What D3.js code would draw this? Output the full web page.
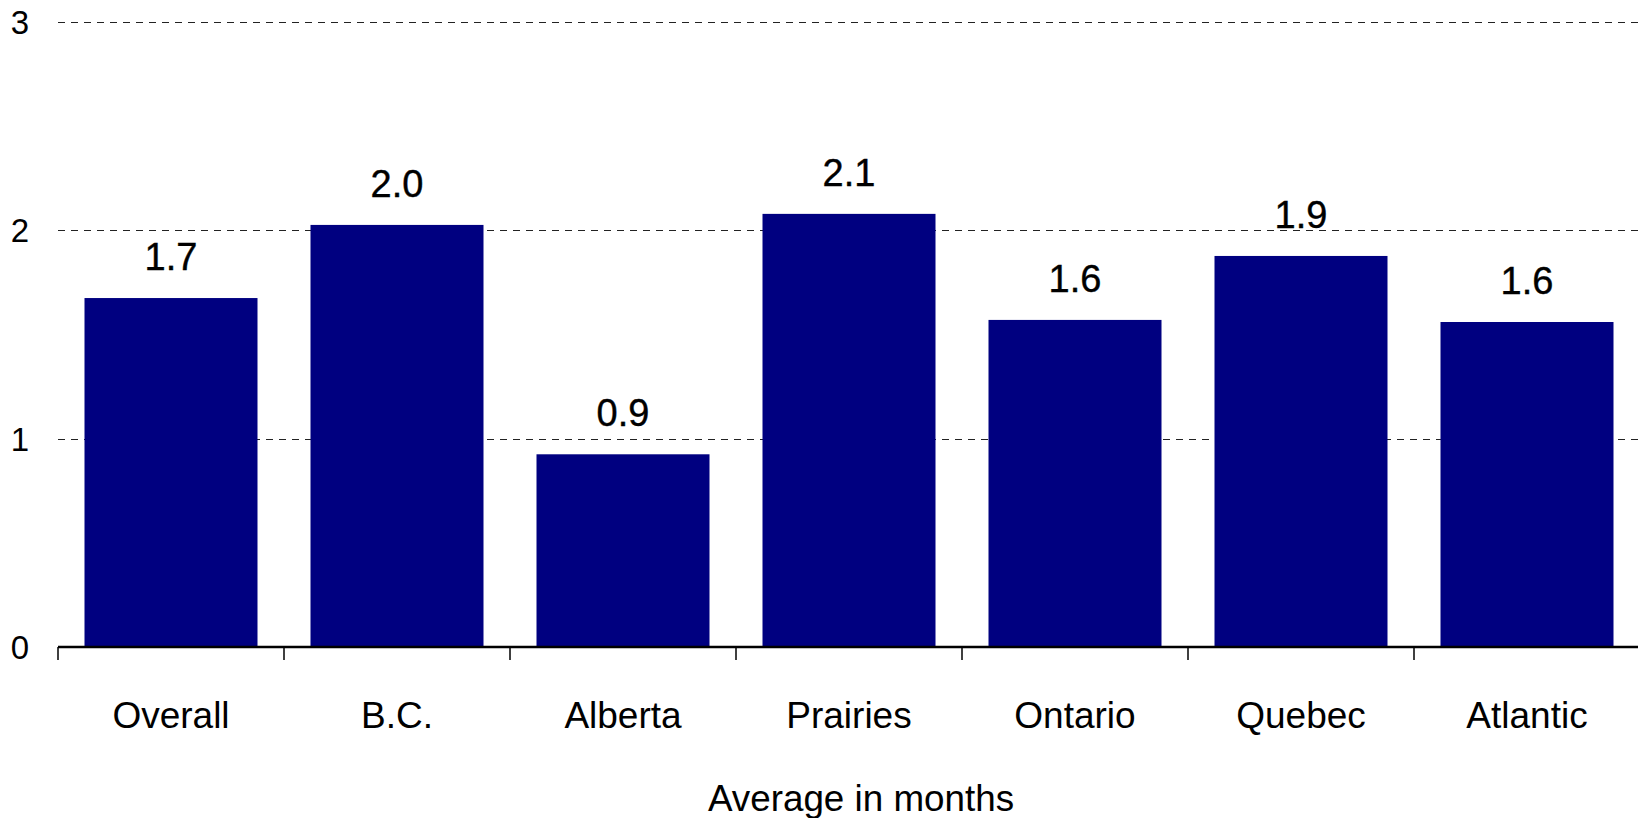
<!DOCTYPE html>
<html>
<head>
<meta charset="utf-8">
<script src="https://cdn.jsdelivr.net/npm/d3@7"></script>
<style>
  html, body { margin: 0; padding: 0; background: #fff; }
  svg { display: block; font-family: "Liberation Sans", Arial, sans-serif; }
</style>
</head>
<body>
<svg id="chart" width="1638" height="818"></svg>
<script>
const categories = ["Overall", "B.C.", "Alberta", "Prairies", "Ontario", "Quebec", "Atlantic"];
const values = [1.675, 2.026, 0.925, 2.079, 1.57, 1.877, 1.56];
const valueLabels = ["1.7", "2.0", "0.9", "2.1", "1.6", "1.9", "1.6"];
const yTicks = [0, 1, 2, 3];
const xTitle = "Average in months";

const svg = d3.select("#chart");
const W = 1638, H = 818;
const plotLeft = 58, plotRight = 1640, plotTop = 22, plotBottom = 647;

const pad = 0.2345;
const x = d3.scaleBand().domain(categories).range([plotLeft, plotRight])
  .paddingInner(pad).paddingOuter(pad / 2);
const y = d3.scaleLinear().domain([0, 3]).range([plotBottom, plotTop]);
const step = x.step();

// gridlines
svg.append("g").selectAll("line").data(yTicks.filter(d => d > 0)).join("line")
  .attr("x1", plotLeft).attr("x2", W)
  .attr("y1", d => Math.round(y(d)) + 0.5).attr("y2", d => Math.round(y(d)) + 0.5)
  .attr("stroke", "#222").attr("stroke-width", 1).attr("stroke-dasharray", "7,6");

// y tick labels
svg.append("g").selectAll("text").data(yTicks).join("text")
  .attr("x", 29).attr("y", d => y(d)).attr("dy", "0.36em")
  .attr("text-anchor", "end").attr("font-size", 33).attr("fill", "#000")
  .text(d => d);

// bars
svg.append("g").selectAll("rect").data(categories).join("rect")
  .attr("x", d => x(d)).attr("width", x.bandwidth())
  .attr("y", (d, i) => y(values[i])).attr("height", (d, i) => y(0) - y(values[i]))
  .attr("fill", "#000080");

// value labels
svg.append("g").selectAll("text").data(categories).join("text")
  .attr("x", d => x(d) + x.bandwidth() / 2)
  .attr("y", (d, i) => y(values[i]) - 28)
  .attr("text-anchor", "middle").attr("font-size", 38).attr("fill", "#000")
  .attr("stroke", "#000").attr("stroke-width", 0.4)
  .text((d, i) => valueLabels[i]);

// x axis
const xAxis = svg.append("g");
xAxis.append("line").attr("x1", plotLeft).attr("x2", W)
  .attr("y1", y(0)).attr("y2", y(0)).attr("stroke", "#000").attr("stroke-width", 2.5);
const tickPos = categories.map(d => x(d) - step * pad / 2);
xAxis.selectAll("line.tick").data(tickPos).join("line").attr("class", "tick")
  .attr("x1", d => d).attr("x2", d => d)
  .attr("y1", y(0)).attr("y2", y(0) + 13)
  .attr("stroke", "#000").attr("stroke-width", 1.5);

// category labels
svg.append("g").selectAll("text").data(categories).join("text")
  .attr("x", d => x(d) + x.bandwidth() / 2).attr("y", 728)
  .attr("text-anchor", "middle").attr("font-size", 37).attr("fill", "#000")
  .text(d => d);

// axis title
svg.append("text").attr("x", (plotLeft + plotRight) / 2 + 12).attr("y", 811)
  .attr("text-anchor", "middle").attr("font-size", 36.8).attr("fill", "#000")
  .text(xTitle);
</script>
</body>
</html>
